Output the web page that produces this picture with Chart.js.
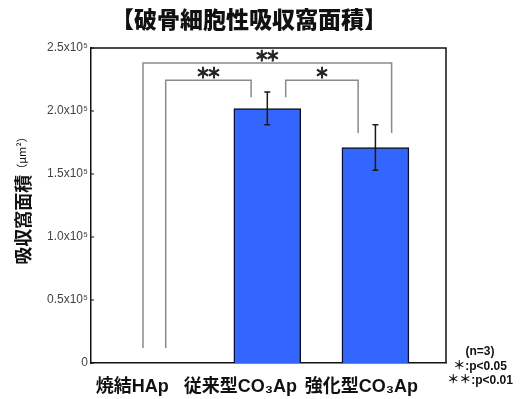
<!DOCTYPE html>
<html>
<head>
<meta charset="utf-8">
<script src="https://cdn.jsdelivr.net/npm/chart.js@4"></script>
<style>
html,body{margin:0;padding:0;background:#fff;}
#wrap{width:523px;height:399px;position:relative;}
</style>
</head>
<body>
<div id="wrap"><canvas id="c" width="523" height="399"></canvas></div>
<script>
// ---- data ----
const categories = ['焼結HAp', '従来型CO₃Ap', '強化型CO₃Ap'];
const meanArea = [0, 202000, 171000];
const sdArea = [0, 13000, 18000];
const yTickValues = [0, 50000, 100000, 150000, 200000, 250000];
const yTickLabels = ['0', '0.5x10⁵', '1.0x10⁵', '1.5x10⁵', '2.0x10⁵', '2.5x10⁵'];
const xLabelOffsets = [-0.25, -0.25, -0.13];
const titleText = '【破骨細胞性吸収窩面積】';
const yTitleMain = '吸収窩面積';
const yTitleUnit = '（μm²）';
const noteLines = ['(n=3)', '＊:p<0.05', '＊＊:p<0.01'];
// significance brackets: legs x (category units), top level, leg end levels
const bracketX1 = [-0.15, 0.06, 1.17];
const bracketX2 = [2.15, 0.85, 1.84];
const bracketTop = [238000, 224500, 224500];
const bracketEnd1 = [12000, 12000, 211000];
const bracketEnd2 = [182500, 211000, 182500];
const bracketStars = [2, 2, 1];

const LATIN_CJK = '"Liberation Sans", "Noto Sans CJK JP", sans-serif';

function drawStars(ctx, n, cx, cy) {
  ctx.font = 'bold 14px "Noto Sans CJK JP", sans-serif';
  ctx.textAlign = 'center';
  ctx.textBaseline = 'middle';
  ctx.strokeStyle = '#222';
  ctx.lineWidth = 0.9;
  const gap = 11;
  for (let k = 0; k < n; k++) {
    const x = cx + (k - (n - 1) / 2) * gap;
    ctx.fillText('＊', x, cy);
    ctx.strokeText('＊', x, cy);
  }
}

const decor = {
  id: 'decor',
  afterDatasetsDraw(chart) {
    const ctx = chart.ctx, xs = chart.scales.x, ys = chart.scales.y, a = chart.chartArea;
    ctx.save();
    // error bars
    ctx.strokeStyle = '#1a1a1a';
    ctx.lineWidth = 1.5;
    meanArea.forEach((m, i) => {
      if (!sdArea[i]) return;
      const px = xs.getPixelForValue(i);
      const t = ys.getPixelForValue(m + sdArea[i]);
      const b = ys.getPixelForValue(m - sdArea[i]);
      ctx.beginPath();
      ctx.moveTo(px, t); ctx.lineTo(px, b);
      ctx.moveTo(px - 3, t); ctx.lineTo(px + 3, t);
      ctx.moveTo(px - 3, b); ctx.lineTo(px + 3, b);
      ctx.stroke();
    });
    // brackets
    bracketX1.forEach((x1v, i) => {
      const x1 = xs.getPixelForValue(x1v), x2 = xs.getPixelForValue(bracketX2[i]);
      const yt = ys.getPixelForValue(bracketTop[i]);
      ctx.strokeStyle = '#8a8a8a';
      ctx.lineWidth = 1.5;
      ctx.beginPath();
      ctx.moveTo(x1, ys.getPixelForValue(bracketEnd1[i]));
      ctx.lineTo(x1, yt); ctx.lineTo(x2, yt);
      ctx.lineTo(x2, ys.getPixelForValue(bracketEnd2[i]));
      ctx.stroke();
      ctx.fillStyle = '#222';
      drawStars(ctx, bracketStars[i], (x1 + x2) / 2, yt - 7);
    });
    // frame top/right
    ctx.strokeStyle = '#111';
    ctx.lineWidth = 1.5;
    ctx.beginPath();
    ctx.moveTo(a.left, a.top); ctx.lineTo(a.right, a.top); ctx.lineTo(a.right, a.bottom);
    ctx.stroke();
    // inner tick marks
    ctx.lineWidth = 1;
    yTickValues.forEach(v => {
      const py = ys.getPixelForValue(v);
      ctx.beginPath(); ctx.moveTo(a.left, py); ctx.lineTo(a.left + 3, py); ctx.stroke();
    });
    // title
    ctx.fillStyle = '#111';
    ctx.font = '900 23px "Noto Sans CJK JP", sans-serif';
    ctx.textAlign = 'center';
    ctx.textBaseline = 'middle';
    ctx.fillText(titleText, 249, 19);
    // y title (rotated)
    ctx.save();
    ctx.translate(23, 198);
    ctx.rotate(-Math.PI / 2);
    ctx.font = 'bold 18px "Noto Sans CJK JP", sans-serif';
    const w1 = ctx.measureText(yTitleMain).width;
    ctx.font = '11px "Noto Sans CJK JP", sans-serif';
    const w2 = ctx.measureText(yTitleUnit).width;
    let sx = -(w1 + w2) / 2;
    ctx.textAlign = 'left';
    ctx.font = 'bold 18px "Noto Sans CJK JP", sans-serif';
    ctx.fillText(yTitleMain, sx, 0);
    ctx.font = '11px "Noto Sans CJK JP", sans-serif';
    ctx.fillText(yTitleUnit, sx + w1, -1);
    ctx.restore();
    // notes
    ctx.font = 'bold 12px ' + LATIN_CJK;
    ctx.textAlign = 'center';
    ctx.fillStyle = '#111';
    noteLines.forEach((t, i) => ctx.fillText(t, 480, 352 + i * 14.5));
    ctx.restore();
  }
};

new Chart(document.getElementById('c'), {
  type: 'bar',
  data: {
    datasets: [{
      data: meanArea.map((v, i) => ({ x: i, y: v })),
      backgroundColor: '#3366ff',
      borderColor: '#111',
      borderWidth: 1.5,
      borderSkipped: 'bottom',
      barThickness: 67
    }]
  },
  options: {
    responsive: false,
    animation: false,
    layout: { padding: { left: 0, right: 77, top: 48, bottom: 0 } },
    plugins: { legend: { display: false }, tooltip: { enabled: false } },
    scales: {
      x: {
        type: 'linear',
        offset: false,
        min: -0.631, max: 2.653,
        grid: { display: false, drawTicks: false, offset: false },
        border: { display: true, color: '#111', width: 1.5 },
        afterBuildTicks: s => { s.ticks = categories.map((c, i) => ({ value: i + xLabelOffsets[i] })); },
        afterFit: s => { s.height = 36; },
        ticks: {
          autoSkip: false, maxRotation: 0, padding: 13,
          color: '#111',
          font: { family: LATIN_CJK, size: 18, weight: 'bold' },
          callback: (v, i) => categories[i]
        }
      },
      y: {
        min: 0, max: 250000,
        grid: { display: false, drawTicks: false },
        border: { display: true, color: '#111', width: 1.5 },
        afterBuildTicks: s => { s.ticks = yTickValues.map(v => ({ value: v })); },
        afterFit: s => { s.width = 91; },
        ticks: {
          padding: 3,
          color: '#444',
          font: { family: '"Liberation Sans", sans-serif', size: 12 },
          callback: (v, i) => yTickLabels[i]
        }
      }
    }
  },
  plugins: [decor]
});
</script>
</body>
</html>
